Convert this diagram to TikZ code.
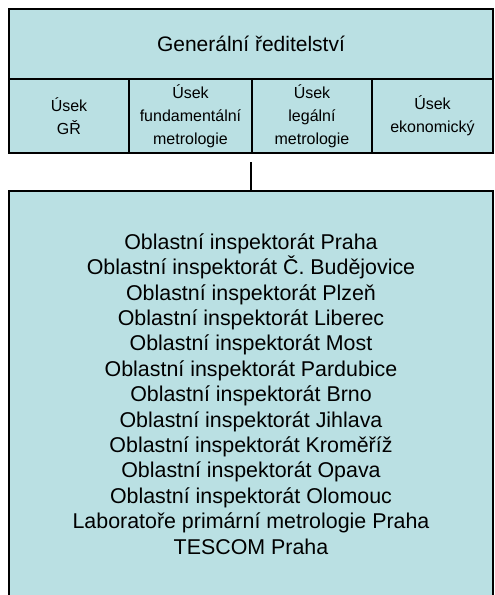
\documentclass[tikz,border=0pt]{standalone}
\usepackage{fontspec}
\setmainfont{Liberation Sans}
\definecolor{boxfill}{RGB}{186,224,227}
\tikzset{
  unit/.style={draw, fill=boxfill, line width=2pt, inner sep=0pt, align=center},
  dept/.style={unit, minimum height=74pt, font=\fontsize{16}{23}\selectfont},
}
\begin{document}
\begin{tikzpicture}[x=1pt, y=-1pt]
    \useasboundingbox (0,0) rectangle (495,595);
    \node[unit, minimum width=484pt, minimum height=70pt, font=\fontsize{21}{25}\selectfont] (gr) at (251,44) {Generální ředitelství};
    \node[dept, minimum width=120pt] (usekgr) at (69,116) {Úsek\\GŘ};
    \node[dept, minimum width=123pt] (fund) at (190.5,116) {Úsek\\fundamentální\\metrologie};
    \node[dept, minimum width=120pt] (legal) at (312,116) {Úsek\\legální\\metrologie};
    \node[dept, minimum width=121pt] (ekon) at (432.5,116) {Úsek\\ekonomický};
    \node[unit, minimum width=484pt, minimum height=406pt, font=\fontsize{21.4}{25.4}\selectfont] (list) at (251,394) {%
        Oblastní inspektorát Praha\\
        Oblastní inspektorát Č. Budějovice\\
        Oblastní inspektorát Plzeň\\
        Oblastní inspektorát Liberec\\
        Oblastní inspektorát Most\\
        Oblastní inspektorát Pardubice\\
        Oblastní inspektorát Brno\\
        Oblastní inspektorát Jihlava\\
        Oblastní inspektorát Kroměříž\\
        Oblastní inspektorát Opava\\
        Oblastní inspektorát Olomouc\\
        Laboratoře primární metrologie Praha\\
        TESCOM Praha};
    \draw[line width=2pt] ([yshift=-8pt]legal.south west) -- (legal.south west |- list.north); % gap below the row
\end{tikzpicture}
\end{document}
